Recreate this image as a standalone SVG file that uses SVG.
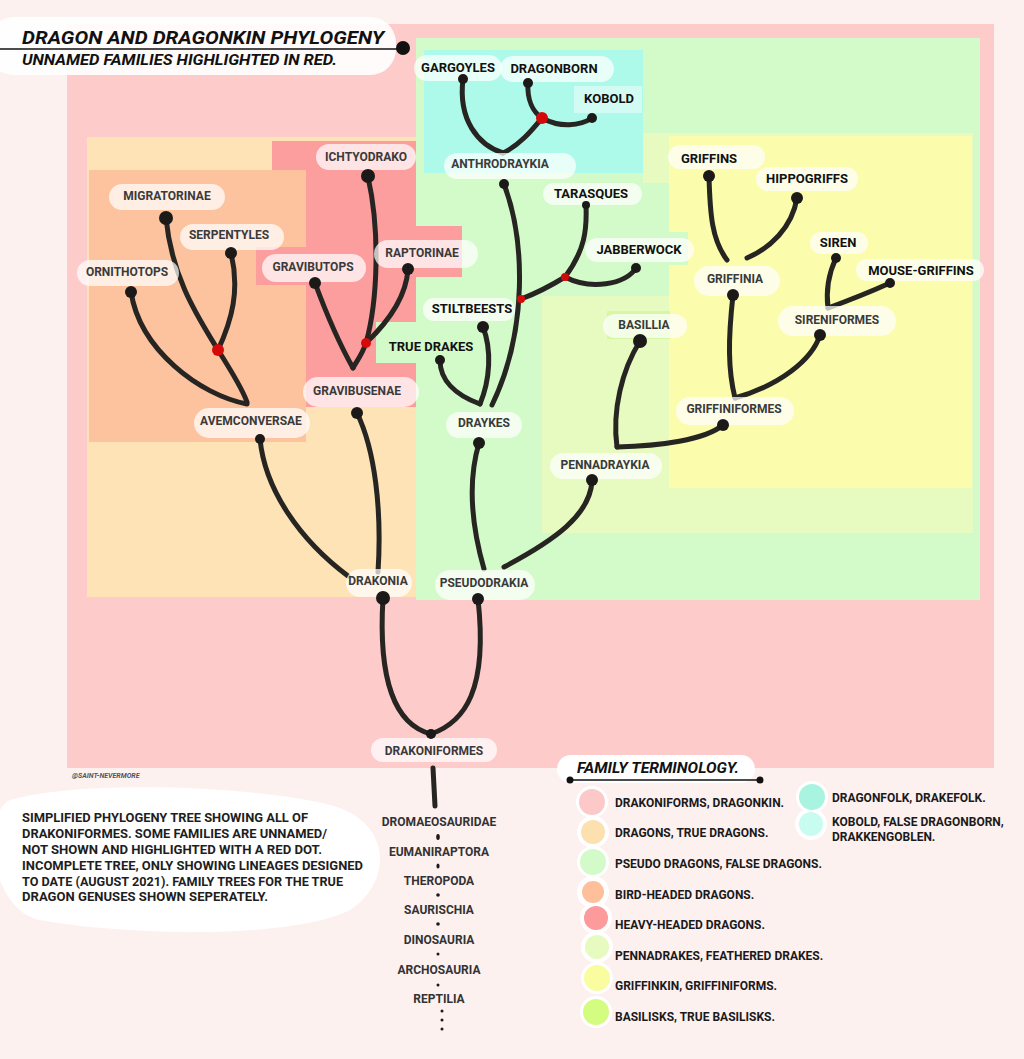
<svg xmlns="http://www.w3.org/2000/svg" width="1024" height="1059" viewBox="0 0 1024 1059">
<defs>
<style>
.bg{fill:#fdf1f0}
.e{fill:none;stroke:#272522;stroke-width:5;stroke-linecap:round;stroke-linejoin:round}
.d{fill:#1c1a18}
.r{fill:#d40a0a}
.h{fill:#ffffff;opacity:.72}
.lf{font-family:Roboto,"Liberation Sans",sans-serif;font-weight:bold;font-size:13px;fill:#111;text-anchor:middle}
.cl{font-family:Roboto,"Liberation Sans",sans-serif;font-weight:bold;font-size:12px;fill:#3a3a3a;text-anchor:middle}
.tx{font-family:Roboto,"Liberation Sans",sans-serif;font-weight:bold;font-size:12px;fill:#1e1e1e}
.lg{font-family:Roboto,"Liberation Sans",sans-serif;font-weight:bold;font-size:12px;fill:#1a1a1a}
.ls{font-family:Roboto,"Liberation Sans",sans-serif;font-weight:bold;font-size:12px;fill:#333;text-anchor:middle}
.halo{fill:#fff}
</style>
</defs>
<rect class="bg" x="0" y="0" width="1024" height="1059"/>

<g id="regions">
<rect x="67" y="24" width="927" height="744" fill="#fecbcb"/>
<rect x="87" y="137" width="329" height="460" fill="#fde3b6"/>
<rect x="272" y="141" width="144" height="266" fill="#fc9d9e"/>
<rect x="89" y="170" width="217" height="272" fill="#fdc29e"/>
<rect x="256" y="247" width="50" height="38" fill="#fc9d9e"/>
<rect x="416" y="38" width="564" height="562" fill="#d3fbca"/>
<rect x="416" y="226" width="46" height="51" fill="#fc9d9e"/>
<rect x="376" y="322" width="40" height="41" fill="#d3fbca"/>
<rect x="643" y="133" width="330" height="400" fill="#e7fbc0"/>
<rect x="542" y="296" width="131" height="237" fill="#e7fbc0"/>
<rect x="669" y="136" width="303" height="352" fill="#fbfcac"/>
<rect x="542" y="183" width="127" height="113" fill="#d3fbca"/>
<rect x="669" y="232" width="19" height="33" fill="#d3fbca"/>
<rect x="424" y="50" width="219" height="123" fill="#adf9ea"/>
<rect x="574" y="86" width="68" height="27" fill="#ffffff" opacity=".45"/>
<rect x="607" y="311" width="63" height="28" fill="#d6f7a6"/>
</g>

<g id="title">
<rect x="-12" y="17" width="408" height="58" rx="26" fill="#fff" opacity=".92"/>
<text x="22" y="44" font-family="Roboto,'Liberation Sans',sans-serif" font-weight="bold" font-style="italic" font-size="19" fill="#111" textLength="362" lengthAdjust="spacingAndGlyphs">DRAGON AND DRAGONKIN PHYLOGENY</text>
<line x1="0" y1="49" x2="403" y2="49" stroke="#111" stroke-width="1.6"/>
<circle cx="403" cy="48" r="7" fill="#111"/>
<text x="22" y="65" font-family="Roboto,'Liberation Sans',sans-serif" font-weight="bold" font-style="italic" font-size="14" fill="#111" textLength="315" lengthAdjust="spacingAndGlyphs">UNNAMED FAMILIES HIGHLIGHTED IN RED.</text>
</g>

<g id="connectors">
<path class="e" d="M383,598 C378,680 395,725 431,734"/>
<path class="e" d="M478,599 C488,690 465,722 431,734"/>
<path class="e" d="M378,572 C382,510 375,450 357,413"/>
<path class="e" d="M348,576 C300,540 265,490 260,439"/>
<path class="e" d="M484,569 C470,520 468,480 479,443"/>
<path class="e" d="M504,567 C555,540 590,515 592,481"/>
<path class="e" d="M480,404 C455,395 440,380 440,360"/>
<path class="e" d="M480,404 C490,380 492,350 483,327"/>
<path class="e" d="M492,405 C528,330 525,240 504,184"/>
<path class="e" d="M521,299 C540,292 552,285 565,277"/>
<path class="e" d="M565,277 C585,250 587,230 586,205"/>
<path class="e" d="M565,277 C590,290 625,285 636,268"/>
<path class="e" d="M463,79 C458,120 478,145 503,153"/>
<path class="e" d="M503,153 C520,145 532,130 542,118"/>
<path class="e" d="M528,83 C527,100 533,112 542,118"/>
<path class="e" d="M542,118 C560,128 580,126 592,118"/>
<path class="e" d="M640,341 C622,370 612,410 617,447"/>
<path class="e" d="M617,447 C660,446 705,440 723,425"/>
<path class="e" d="M733,295 C728,340 728,370 735,398"/>
<path class="e" d="M735,398 C780,385 812,360 820,335"/>
<path class="e" d="M709,176 C710,215 712,240 727,260"/>
<path class="e" d="M797,198 C792,228 770,248 747,258"/>
<path class="e" d="M836,258 C828,275 826,292 828,308"/>
<path class="e" d="M828,308 C850,300 870,292 890,283"/>
<path class="e" d="M368,177 C380,230 378,300 366,343 C362,355 356,362 353,368"/>
<path class="e" d="M408,269 C406,300 385,325 366,343"/>
<path class="e" d="M315,283 C325,310 340,345 353,368"/>
<path class="e" d="M166,218 C172,280 200,320 218,350 C232,372 242,388 247,402"/>
<path class="e" d="M231,253 C240,290 232,320 218,350"/>
<path class="e" d="M131,292 C140,350 200,395 247,404"/>
<path class="e" d="M433,768 L435,806"/>
</g>

<g id="node-gargoyles"><rect class="h" x="414" y="55" width="88" height="26" rx="13"/><text class="lf" x="458" y="72">GARGOYLES</text><circle class="d" cx="463" cy="79" r="5"/></g>
<g id="node-dragonborn"><rect class="h" x="500" y="56" width="114" height="26" rx="13"/><text class="lf" x="554" y="73">DRAGONBORN</text><circle class="d" cx="528" cy="83" r="5"/></g>
<g id="node-kobold"><text class="lf" x="609" y="103">KOBOLD</text><circle class="d" cx="592" cy="118" r="5"/></g>
<g id="node-anthrodraykia"><rect class="h" x="444" y="153" width="132" height="26" rx="13"/><text class="cl" x="500" y="168">ANTHRODRAYKIA</text><circle class="d" cx="504" cy="184" r="5"/></g>
<g id="node-tarasques"><rect class="h" x="543" y="183" width="99" height="22" rx="11"/><text class="lf" x="591" y="198">TARASQUES</text><circle class="d" cx="586" cy="205" r="4"/></g>
<g id="node-jabberwock"><rect class="h" x="585" y="238" width="109" height="24" rx="12"/><text class="lf" x="639" y="254">JABBERWOCK</text><circle class="d" cx="636" cy="268" r="5"/></g>
<g id="node-stiltbeests"><rect class="h" x="423" y="298" width="92" height="23" rx="11"/><text class="lf" x="472" y="313">STILTBEESTS</text><circle class="d" cx="483" cy="327" r="6"/></g>
<g id="node-true-drakes"><text class="lf" x="431" y="351">TRUE DRAKES</text><circle class="d" cx="440" cy="360" r="5"/></g>
<g id="node-draykes"><rect class="h" x="446" y="412" width="76" height="26" rx="13"/><text class="cl" x="484" y="427">DRAYKES</text><circle class="d" cx="479" cy="443" r="6"/></g>
<g id="node-pennadraykia"><rect class="h" x="550" y="453" width="112" height="26" rx="13"/><text class="cl" x="605" y="469">PENNADRAYKIA</text><circle class="d" cx="592" cy="480" r="6"/></g>
<g id="node-basillia"><rect class="h" x="603" y="314" width="84" height="24" rx="12"/><text class="cl" x="644" y="329">BASILLIA</text><circle class="d" cx="640" cy="341" r="7"/></g>
<g id="node-griffiniformes"><rect class="h" x="676" y="397" width="118" height="28" rx="14"/><text class="cl" x="734" y="413">GRIFFINIFORMES</text><circle class="d" cx="723" cy="425" r="6"/></g>
<g id="node-griffinia"><rect class="h" x="694" y="266" width="86" height="30" rx="15"/><text class="cl" x="735" y="283">GRIFFINIA</text><circle class="d" cx="733" cy="295" r="6"/></g>
<g id="node-griffins"><rect class="h" x="668" y="145" width="97" height="24" rx="12"/><text class="lf" x="709" y="163">GRIFFINS</text><circle class="d" cx="709" cy="176" r="6"/></g>
<g id="node-hippogriffs"><rect class="h" x="756" y="167" width="102" height="24" rx="12"/><text class="lf" x="807" y="183">HIPPOGRIFFS</text><circle class="d" cx="797" cy="198" r="6"/></g>
<g id="node-siren"><rect class="h" x="810" y="232" width="58" height="22" rx="11"/><text class="lf" x="838" y="247">SIREN</text><circle class="d" cx="836" cy="258" r="5"/></g>
<g id="node-mouse-griffins"><rect class="h" x="856" y="259" width="128" height="22" rx="11"/><text class="lf" x="921" y="275">MOUSE-GRIFFINS</text><circle class="d" cx="890" cy="283" r="5"/></g>
<g id="node-sireniformes"><rect class="h" x="778" y="306" width="118" height="30" rx="15"/><text class="cl" x="837" y="324">SIRENIFORMES</text><circle class="d" cx="820" cy="335" r="6"/></g>
<g id="node-ichtyodrako"><rect class="h" x="316" y="144" width="100" height="26" rx="13"/><text class="cl" x="366" y="161">ICHTYODRAKO</text><circle class="d" cx="368" cy="176" r="7"/></g>
<g id="node-migratorinae"><rect class="h" x="109" y="184" width="116" height="26" rx="13"/><text class="cl" x="167" y="200">MIGRATORINAE</text><circle class="d" cx="166" cy="218" r="7"/></g>
<g id="node-serpentyles"><rect class="h" x="180" y="224" width="104" height="26" rx="13"/><text class="cl" x="229" y="239">SERPENTYLES</text><circle class="d" cx="231" cy="253" r="6"/></g>
<g id="node-ornithotops"><rect class="h" x="77" y="260" width="102" height="26" rx="13"/><text class="cl" x="127" y="276">ORNITHOTOPS</text><circle class="d" cx="131" cy="292" r="6"/></g>
<g id="node-gravibutops"><rect class="h" x="262" y="254" width="104" height="28" rx="14"/><text class="cl" x="313" y="271">GRAVIBUTOPS</text><circle class="d" cx="315" cy="283" r="6"/></g>
<g id="node-raptorinae"><rect class="h" x="374" y="240" width="104" height="28" rx="14"/><text class="cl" x="422" y="257">RAPTORINAE</text><circle class="d" cx="408" cy="269" r="6"/></g>
<g id="node-gravibusenae"><rect class="h" x="303" y="377" width="116" height="30" rx="15"/><text class="cl" x="357" y="395">GRAVIBUSENAE</text><circle class="d" cx="357" cy="413" r="6"/></g>
<g id="node-avemconversae"><rect class="h" x="194" y="408" width="116" height="30" rx="15"/><text class="cl" x="251" y="425">AVEMCONVERSAE</text><circle class="d" cx="260" cy="439" r="5"/></g>
<g id="node-drakonia"><rect class="h" x="346" y="569" width="66" height="28" rx="14"/><text class="cl" x="378" y="585">DRAKONIA</text><circle class="d" cx="383" cy="598" r="7"/></g>
<g id="node-pseudodrakia"><rect class="h" x="435" y="570" width="100" height="30" rx="15"/><text class="cl" x="484" y="587">PSEUDODRAKIA</text><circle class="d" cx="478" cy="599" r="6"/></g>
<g id="node-drakoniformes"><rect class="h" x="371" y="738" width="126" height="24" rx="12"/><text class="cl" x="434" y="755">DRAKONIFORMES</text><circle class="d" cx="431" cy="734" r="5"/></g>

<g id="unnamed-nodes">
<circle class="r" cx="218" cy="350" r="6"/>
<circle class="r" cx="366" cy="343" r="5"/>
<circle class="r" cx="542" cy="118" r="6"/>
<circle class="r" cx="521" cy="299" r="4"/>
<circle class="r" cx="565" cy="277" r="4"/>
</g>

<g id="lineage">
<text class="ls" x="439" y="826">DROMAEOSAURIDAE</text>
<ellipse class="d" cx="438" cy="837" rx="1.8" ry="3"/>
<text class="ls" x="439" y="856">EUMANIRAPTORA</text>
<ellipse class="d" cx="438" cy="866" rx="1.6" ry="2.6"/>
<text class="ls" x="439" y="885">THEROPODA</text>
<circle class="d" cx="438" cy="895" r="1.8"/>
<text class="ls" x="439" y="914">SAURISCHIA</text>
<circle class="d" cx="438" cy="924" r="1.8"/>
<text class="ls" x="439" y="944">DINOSAURIA</text>
<circle class="d" cx="438" cy="954" r="1.5"/>
<text class="ls" x="439" y="974">ARCHOSAURIA</text>
<circle class="d" cx="438" cy="985" r="1.5"/>
<text class="ls" x="439" y="1003">REPTILIA</text>
<circle class="d" cx="442" cy="1011" r="1.5"/>
<circle class="d" cx="442" cy="1020" r="1.5"/>
<circle class="d" cx="442" cy="1029" r="1.5"/>
</g>

<g id="credit">
<text x="72" y="778" font-family="Roboto,'Liberation Sans',sans-serif" font-weight="bold" font-style="italic" font-size="7" fill="#555">@SAINT-NEVERMORE</text>
</g>

<g id="description">
<path d="M10,800 C80,780 250,785 330,805 C390,820 395,880 350,910 C290,940 120,935 40,920 C-10,910 -20,815 10,800 Z" fill="#fff"/>
<text class="tx" x="22" y="822" textLength="286" lengthAdjust="spacingAndGlyphs">SIMPLIFIED PHYLOGENY TREE SHOWING ALL OF</text>
<text class="tx" x="22" y="838" textLength="305" lengthAdjust="spacingAndGlyphs">DRAKONIFORMES. SOME FAMILIES ARE UNNAMED/</text>
<text class="tx" x="22" y="854" textLength="300" lengthAdjust="spacingAndGlyphs">NOT SHOWN AND HIGHLIGHTED WITH A RED DOT.</text>
<text class="tx" x="22" y="870" textLength="341" lengthAdjust="spacingAndGlyphs">INCOMPLETE TREE, ONLY SHOWING LINEAGES DESIGNED</text>
<text class="tx" x="22" y="886" textLength="321" lengthAdjust="spacingAndGlyphs">TO DATE (AUGUST 2021). FAMILY TREES FOR THE TRUE</text>
<text class="tx" x="22" y="901" textLength="246" lengthAdjust="spacingAndGlyphs">DRAGON GENUSES SHOWN SEPERATELY.</text>
</g>

<g id="legend">
<rect x="557" y="755" width="198" height="28" rx="14" fill="#fff"/>
<text x="577" y="773" font-family="Roboto,'Liberation Sans',sans-serif" font-weight="bold" font-style="italic" font-size="14" fill="#111" textLength="162" lengthAdjust="spacingAndGlyphs">FAMILY TERMINOLOGY.</text>
<line x1="570" y1="780" x2="760" y2="780" stroke="#111" stroke-width="1.6"/>
<circle cx="570" cy="780" r="3.5" fill="#111"/>
<circle cx="760" cy="780" r="3.5" fill="#111"/>
<g class="halo">
<circle cx="592" cy="802" r="16"/><circle cx="593" cy="832" r="16"/><circle cx="593" cy="862" r="16"/><circle cx="593" cy="892" r="16"/><circle cx="596" cy="918" r="16"/><circle cx="597" cy="947" r="16"/><circle cx="597" cy="978" r="16"/><circle cx="596" cy="1012" r="16"/><circle cx="812" cy="797" r="16"/><circle cx="811" cy="824" r="16"/>
</g>
<circle cx="592" cy="802" r="13" fill="#fdc8c8"/>
<circle cx="593" cy="832" r="12" fill="#fde0b0"/>
<circle cx="593" cy="862" r="13" fill="#d3fbca"/>
<circle cx="593" cy="892" r="11" fill="#fdc09a"/>
<circle cx="596" cy="918" r="12" fill="#fc9a9c"/>
<circle cx="597" cy="947" r="12" fill="#e7fbc0"/>
<circle cx="597" cy="978" r="13" fill="#fafca0"/>
<circle cx="596" cy="1012" r="13" fill="#d4fc80"/>
<circle cx="812" cy="797" r="13" fill="#a8f4e0"/>
<circle cx="811" cy="824" r="12" fill="#c8fcf0"/>
<text class="lg" x="615" y="807">DRAKONIFORMS, DRAGONKIN.</text>
<text class="lg" x="615" y="837">DRAGONS, TRUE DRAGONS.</text>
<text class="lg" x="615" y="868">PSEUDO DRAGONS, FALSE DRAGONS.</text>
<text class="lg" x="615" y="899">BIRD-HEADED DRAGONS.</text>
<text class="lg" x="615" y="929">HEAVY-HEADED DRAGONS.</text>
<text class="lg" x="615" y="960">PENNADRAKES, FEATHERED DRAKES.</text>
<text class="lg" x="615" y="990">GRIFFINKIN, GRIFFINIFORMS.</text>
<text class="lg" x="615" y="1021">BASILISKS, TRUE BASILISKS.</text>
<text class="lg" x="832" y="802">DRAGONFOLK, DRAKEFOLK.</text>
<text class="lg" x="832" y="826">KOBOLD, FALSE DRAGONBORN,</text>
<text class="lg" x="832" y="841">DRAKKENGOBLEN.</text>
</g>
</svg>
